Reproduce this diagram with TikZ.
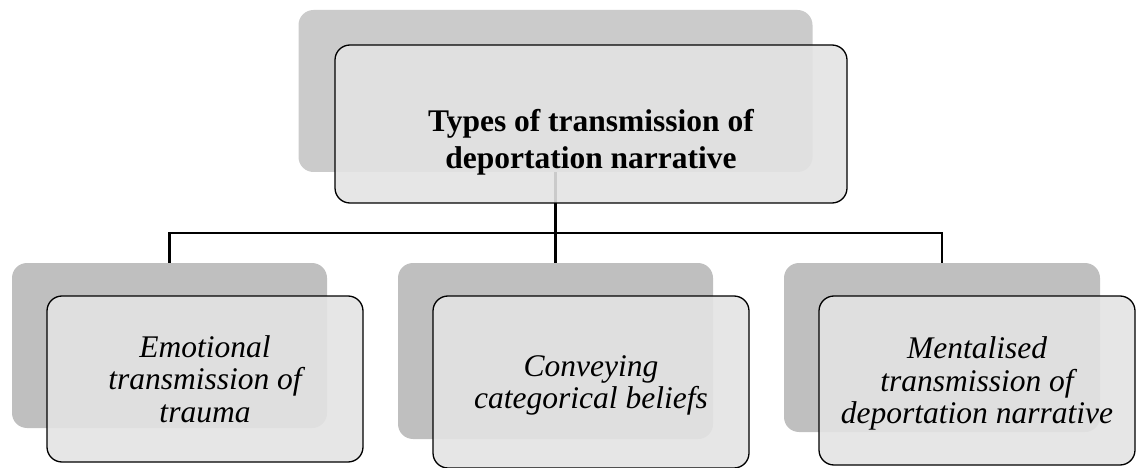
\documentclass[tikz,border=0pt]{standalone}
\usepackage{fontspec}
\setmainfont{Liberation Serif}
\definecolor{backtop}{HTML}{CBCBCB}
\definecolor{backlow}{HTML}{BFBFBF}
\definecolor{frontfill}{HTML}{E3E3E3}
\tikzset{
  backbox/.style={draw=none, rounded corners=15pt, inner sep=0pt},
  frontbox/.style={draw=black, line width=1.3pt, fill=frontfill, fill opacity=0.89,
    text opacity=1, rounded corners=15pt, inner sep=0pt, align=center, text depth=0pt,
    font=\fontsize{31.5}{32.5}\selectfont\itshape},
  toptext/.style={align=center, inner sep=0pt,
    font=\fontsize{31.5}{37}\selectfont\bfseries},
  conn/.style={draw=black, line width=2.4pt}
}
\begin{document}
\begin{tikzpicture}[x=1pt, y=-1pt]
\useasboundingbox (0,0) rectangle (1136,468);

% back plates
\node[backbox, fill=backtop, minimum width=514pt, minimum height=162pt] (topback) at (555.5,91) {};
\node[backbox, fill=backlow, minimum width=315pt, minimum height=165pt] (leftback) at (169.5,345.5) {};
\node[backbox, fill=backlow, minimum width=315pt, minimum height=176pt] (midback) at (555.5,351) {};
\node[backbox, fill=backlow, minimum width=316pt, minimum height=169pt] (rightback) at (942,347.5) {};

% tree connectors
\coordinate (bus) at (555.5,233);
\draw[conn] (topback.south) -- (bus);
\draw[conn] (leftback.north) |- (bus) -| (rightback.north);
\draw[conn] (bus) -- (midback.north);

% front plates
\node[frontbox, minimum width=512pt, minimum height=158pt] (topfront) at (591,124) {};
\node[toptext] (toplabel) at (591,142) {Types of transmission of\\deportation narrative};

\node[frontbox, minimum width=316pt, minimum height=166pt] (leftfront) at (205,379)
  {Emotional\\transmission of\\trauma};
\node[frontbox, minimum width=316pt, minimum height=172pt] (midfront) at (591,382)
  {Conveying\\categorical beliefs};
\node[frontbox, minimum width=316pt, minimum height=169pt] (rightfront) at (977,380.5)
  {Mentalised\\transmission of\\deportation narrative};
\end{tikzpicture}
\end{document}
